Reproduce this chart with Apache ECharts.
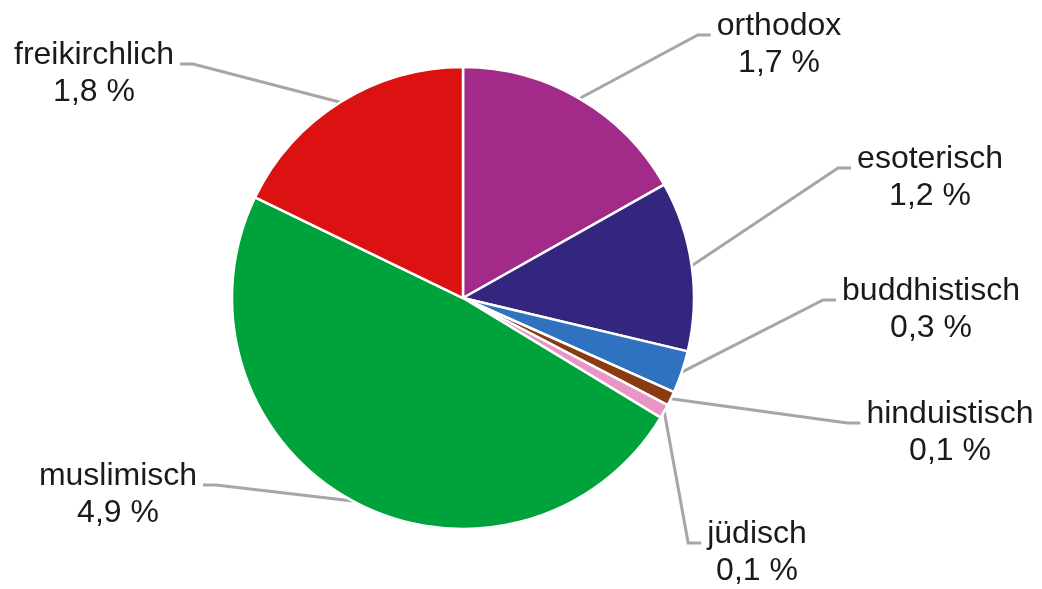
<!DOCTYPE html>
<html>
<head>
<meta charset="utf-8">
<script src="https://cdn.jsdelivr.net/npm/echarts@6/dist/echarts.min.js"></script>
<style>
  html, body { margin: 0; padding: 0; background: #ffffff; }
  #chart { width: 1042px; height: 589px; }
</style>
</head>
<body>
<div id="chart"></div>
<script>
// Religionszugehörigkeit (Anteile in %), im Uhrzeigersinn ab 12 Uhr
const categories = ['orthodox', 'esoterisch', 'buddhistisch', 'hinduistisch', 'jüdisch', 'muslimisch', 'freikirchlich'];
const shares = [1.7, 1.2, 0.3, 0.1, 0.1, 4.9, 1.8];
const sliceColors = ['#A22A89', '#33267F', '#2F72BF', '#8A3B12', '#E996C7', '#00A33B', '#DC1111'];

// Label placement: [centre x of the text block, baseline y of its first line]
const labelSpots = [[779, 37], [930, 170], [931, 302], [950, 425], [757, 545], [118, 487], [94, 66]];

const FONT_SIZE = 32;
const LINE_HEIGHT = 37;
const PIE_CX = 463;
const PIE_CY = 298;
const GAP = 6;        // space between leader line and text
const TAIL = 13;      // horizontal end of the leader line

const fmt = v => v.toFixed(1).replace('.', ',') + ' %';

const chart = echarts.init(document.getElementById('chart'), null, { renderer: 'canvas' });

chart.setOption({
  backgroundColor: '#ffffff',
  animation: false,
  series: [{
    type: 'pie',
    center: [PIE_CX, PIE_CY],
    radius: 231,
    startAngle: 90,
    clockwise: true,
    avoidLabelOverlap: false,
    data: categories.map((name, i) => ({
      name: name,
      value: shares[i],
      itemStyle: { color: sliceColors[i] }
    })),
    itemStyle: { borderColor: '#ffffff', borderWidth: 2.5 },
    label: {
      show: true,
      position: 'outside',
      formatter: p => p.name + '\n' + fmt(p.value),
      fontFamily: '"Liberation Sans", Arial, sans-serif',
      fontSize: FONT_SIZE,
      lineHeight: LINE_HEIGHT,
      color: '#1a1a1a',
      align: 'center'
    },
    labelLine: {
      show: true,
      length: 20,
      length2: 10,
      smooth: false,
      lineStyle: { color: '#A6A6A6', width: 3 }
    },
    emphasis: { disabled: true },
    labelLayout: function (params) {
      const spot = labelSpots[params.dataIndex];
      const w = params.labelRect.width;
      const top = spot[1] - LINE_HEIGHT / 2 - FONT_SIZE * 0.35;
      const lineY = spot[1] - 2;
      const onRight = spot[0] > PIE_CX;
      const endX = onRight ? spot[0] - w / 2 - GAP : spot[0] + w / 2 + GAP;
      const elbowX = onRight ? endX - TAIL : endX + TAIL;
      const start = params.labelLinePoints ? params.labelLinePoints[0] : [PIE_CX, PIE_CY];
      return {
        x: spot[0],
        y: top,
        align: 'center',
        verticalAlign: 'top',
        moveOverlap: null,
        labelLinePoints: [start, [elbowX, lineY], [endX, lineY]]
      };
    }
  }]
});
</script>
</body>
</html>
